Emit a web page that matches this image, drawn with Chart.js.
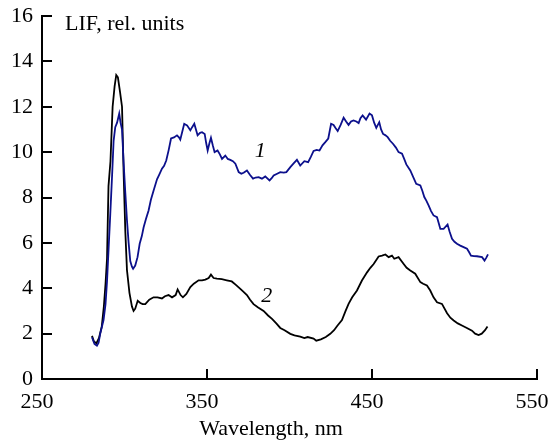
<!DOCTYPE html>
<html>
<head>
<meta charset="utf-8">
<script src="https://cdn.jsdelivr.net/npm/chart.js@4.4.1/dist/chart.umd.min.js"></script>
<style>
  body { margin: 0; background: #fff; }
  canvas { display: block; }
</style>
</head>
<body>
<canvas id="lifChart" width="549" height="442"></canvas>
<script>
// curve 1 (blue)
var wl1 = [280.3, 281.8, 283.3, 284.3, 285.3, 287.3, 288.5, 289.4, 290.4, 291.4, 292.5, 293.4, 294.4, 295.5, 296.8, 297.6, 298.5, 299.5, 300.5, 301.5,
  302.5, 303.5, 304.5, 305.2, 306.5, 307.9, 309.2, 310.5, 311.6, 313, 314.6, 316, 317.6, 319.7, 321, 322.7, 324, 325.3, 326.8, 328.2,
  330, 331.8, 333, 333.8, 335, 336.2, 337.9, 339.9, 341, 342.3, 343.3, 344.3, 345.8, 347, 348.6, 349.5, 350.4, 351.5, 352.4, 353.5,
  354.6, 356.4, 357.8, 359.1, 361.1, 362.6, 364.1, 365.7, 367.2, 369.2, 370.8, 372.2, 374.2, 376, 377.9, 379.5, 381.3, 383.3, 385.3, 387.9,
  389.2, 390.4, 392.5, 394.4, 396.5, 398.1, 400.5, 402.5, 404.5, 406.5, 409, 411.3, 413, 414.6, 416.5, 418.2, 420, 421.7, 423.5, 425.2,
  426.7, 428, 429.2, 431, 432.8, 434.3, 435.8, 437.3, 438.8, 440.5, 441.9, 443, 444.3, 446.4, 448.5, 450, 451.3, 452.6, 454.4, 455.5,
  456.7, 458, 459.5, 461, 462.7, 464.5, 466.1, 468.2, 469.5, 470.8, 473.2, 475, 476.8, 479.3, 480.5, 481.7, 483, 484.3, 485.8, 487.3,
  489.4, 490.5, 491.4, 493.4, 495.8, 497, 498.5, 500, 501.5, 503.5, 505.5, 507.6, 508.8, 510, 511.8, 513.6, 516.7, 518.2, 519.3, 520.3];
var lif1 = [1.84, 1.55, 1.47, 1.6, 2.0, 2.6, 3.3, 4.3, 5.8, 7.3, 9.0, 10.5, 11.1, 11.3, 11.7, 11.3, 11.0, 9.5, 8.2, 7.0,
  6.0, 5.2, 4.95, 4.86, 5.0, 5.37, 5.96, 6.3, 6.69, 7.05, 7.43, 7.9, 8.3, 8.8, 9.0, 9.27, 9.4, 9.63, 10.1, 10.6,
  10.65, 10.74, 10.65, 10.55, 10.9, 11.25, 11.18, 10.96, 11.1, 11.25, 11.0, 10.74, 10.85, 10.88, 10.8, 10.4, 10.07, 10.4, 10.63, 10.3,
  10.0, 10.07, 9.9, 9.7, 9.85, 9.7, 9.66, 9.6, 9.49, 9.12, 9.05, 9.09, 9.19, 9.0, 8.83, 8.88, 8.9, 8.83, 8.93, 8.75,
  8.85, 8.97, 9.05, 9.12, 9.1, 9.12, 9.34, 9.5, 9.66, 9.41, 9.6, 9.56, 9.8, 10.05, 10.1, 10.07, 10.3, 10.44, 10.6, 11.25,
  11.2, 11.05, 10.93, 11.2, 11.52, 11.35, 11.2, 11.35, 11.4, 11.35, 11.28, 11.5, 11.62, 11.43, 11.7, 11.62, 11.3, 11.07, 11.32, 11.0,
  10.8, 10.75, 10.66, 10.5, 10.37, 10.2, 10.0, 9.93, 9.7, 9.46, 9.19, 8.9, 8.6, 8.53, 8.3, 8.02, 7.85, 7.65, 7.4, 7.21,
  7.13, 6.85, 6.62, 6.62, 6.81, 6.5, 6.18, 6.05, 5.96, 5.88, 5.81, 5.74, 5.6, 5.44, 5.42, 5.41, 5.37, 5.22, 5.35, 5.49];

// curve 2 (black)
var wl2 = [280.3, 281.5, 283, 284.5, 286.2, 287.5, 288.5, 289.4, 290.3, 291.5, 292.8, 294, 295, 296, 297.2, 298.5, 299.5, 300.5, 301.5, 303,
  304.5, 305.5, 306.5, 308, 309.6, 311, 312.6, 315, 317.6, 320, 322.7, 324.5, 326.7, 328.8, 331, 332.2, 334, 335.4, 337.5, 339.9,
  342, 344.9, 347, 349, 351, 352.4, 354, 356, 359, 362, 365, 367.5, 370.2, 372, 374.2, 376, 378.2, 381, 384.3, 387,
  389.4, 392, 394.4, 397, 400.5, 403, 406.5, 409, 411, 414.6, 416.2, 419, 422, 424.7, 427, 429, 431.8, 434, 435.8, 438,
  440.9, 443.9, 447, 449, 451, 454, 456.1, 458.1, 460.1, 462.1, 463.5, 466.1, 469.2, 471, 473.2, 476.2, 479.3, 481, 483.3, 485.3,
  487.3, 489.4, 492.4, 495.5, 497.5, 499.5, 502, 504.5, 507.5, 510.6, 512.5, 514.6, 516.5, 518.5, 520];
var lif2 = [1.9, 1.65, 1.58, 1.8, 2.3, 3.2, 4.2, 5.3, 8.5, 9.6, 12.0, 12.9, 13.4, 13.3, 12.7, 12.0, 9.0, 6.5, 4.8, 3.8,
  3.2, 3.0, 3.1, 3.45, 3.35, 3.3, 3.3, 3.5, 3.6, 3.6, 3.55, 3.65, 3.7, 3.6, 3.7, 3.95, 3.7, 3.6, 3.75, 4.05,
  4.2, 4.35, 4.35, 4.38, 4.45, 4.6, 4.45, 4.42, 4.4, 4.35, 4.3, 4.15, 3.97, 3.85, 3.7, 3.5, 3.3, 3.15, 3.0, 2.8,
  2.65, 2.45, 2.25, 2.15, 1.99, 1.92, 1.87, 1.8, 1.85, 1.78, 1.69, 1.75, 1.85, 1.99, 2.15, 2.35, 2.6, 3.0, 3.31, 3.6,
  3.9, 4.34, 4.7, 4.9, 5.07, 5.4, 5.44, 5.49, 5.37, 5.44, 5.3, 5.37, 5.07, 4.9, 4.78, 4.64, 4.27, 4.2, 4.12, 3.9,
  3.6, 3.38, 3.31, 2.9, 2.7, 2.58, 2.45, 2.36, 2.25, 2.13, 2.0, 1.94, 2.0, 2.15, 2.31];

var xTicks = [250, 350, 450, 550];
var yTicks = [0, 2, 4, 6, 8, 10, 12, 14, 16];

// curve numbers placed in data coordinates
var curveLabels = ['1', '2'];
var curveLabelX = [382.3, 386.2];
var curveLabelY = [10.03, 3.66];

var serif = "'Liberation Serif', 'Times New Roman', serif";

function toPoints(xs, ys) {
  return xs.map(function (x, i) { return { x: x, y: ys[i] }; });
}

// inward tick marks, axis captions and curve numbers
var extras = {
  id: 'extras',
  afterDatasetsDraw: function (chart) {
    var c = chart.ctx, xs = chart.scales.x, ys = chart.scales.y, area = chart.chartArea;
    c.save();
    c.strokeStyle = '#000';
    c.lineWidth = 2;
    xTicks.forEach(function (v) {
      var px = Math.round(xs.getPixelForValue(v));
      c.beginPath(); c.moveTo(px, area.bottom); c.lineTo(px, area.bottom - 10); c.stroke();
    });
    yTicks.forEach(function (v) {
      var py = Math.round(ys.getPixelForValue(v));
      c.beginPath(); c.moveTo(area.left, py); c.lineTo(area.left + 10, py); c.stroke();
    });
    c.fillStyle = '#000';
    c.textBaseline = 'middle';
    c.textAlign = 'left';
    c.font = '22px ' + serif;
    c.fillText('LIF, rel. units', 65, 24);
    c.textAlign = 'center';
    c.fillText('Wavelength, nm', 271, 429);
    c.font = 'italic 22px ' + serif;
    curveLabels.forEach(function (t, i) {
      c.fillText(t, xs.getPixelForValue(curveLabelX[i]), ys.getPixelForValue(curveLabelY[i]));
    });
    c.restore();
  }
};

var ctx = document.getElementById('lifChart').getContext('2d');
var chart = new Chart(ctx, {
  type: 'line',
  data: {
    datasets: [{
      label: '1',
      data: toPoints(wl1, lif1),
      borderColor: '#0c108c',
      borderWidth: 1.8,
      pointRadius: 0,
      tension: 0,
      fill: false
    }, {
      label: '2',
      data: toPoints(wl2, lif2),
      borderColor: '#000',
      borderWidth: 1.8,
      pointRadius: 0,
      tension: 0,
      fill: false
    }]
  },
  options: {
    responsive: false,
    animation: false,
    devicePixelRatio: 1,
    layout: { padding: { top: 16, right: 12, left: 0, bottom: 0 } },
    plugins: { legend: { display: false }, tooltip: { enabled: false } },
    scales: {
      x: {
        type: 'linear',
        min: 250, max: 550,
        grid: { display: false, drawTicks: false },
        border: { display: true, color: '#000', width: 2 },
        ticks: {
          stepSize: 100,
          color: '#000',
          padding: 10,
          labelOffset: -5,
          maxRotation: 0,
          font: { family: serif, size: 22 }
        },
        afterFit: function (scale) {
          scale.height = 63;
          scale.paddingLeft = 0;
          scale.paddingRight = 0;
        }
      },
      y: {
        min: 0, max: 16,
        grid: { display: false, drawTicks: false },
        border: { display: true, color: '#000', width: 2 },
        ticks: {
          stepSize: 2,
          color: '#000',
          padding: 9,
          font: { family: serif, size: 22 }
        },
        afterFit: function (scale) {
          scale.width = 42;
          scale.paddingTop = 0;
          scale.paddingBottom = 0;
        }
      }
    }
  },
  plugins: [extras]
});
</script>
</body>
</html>
